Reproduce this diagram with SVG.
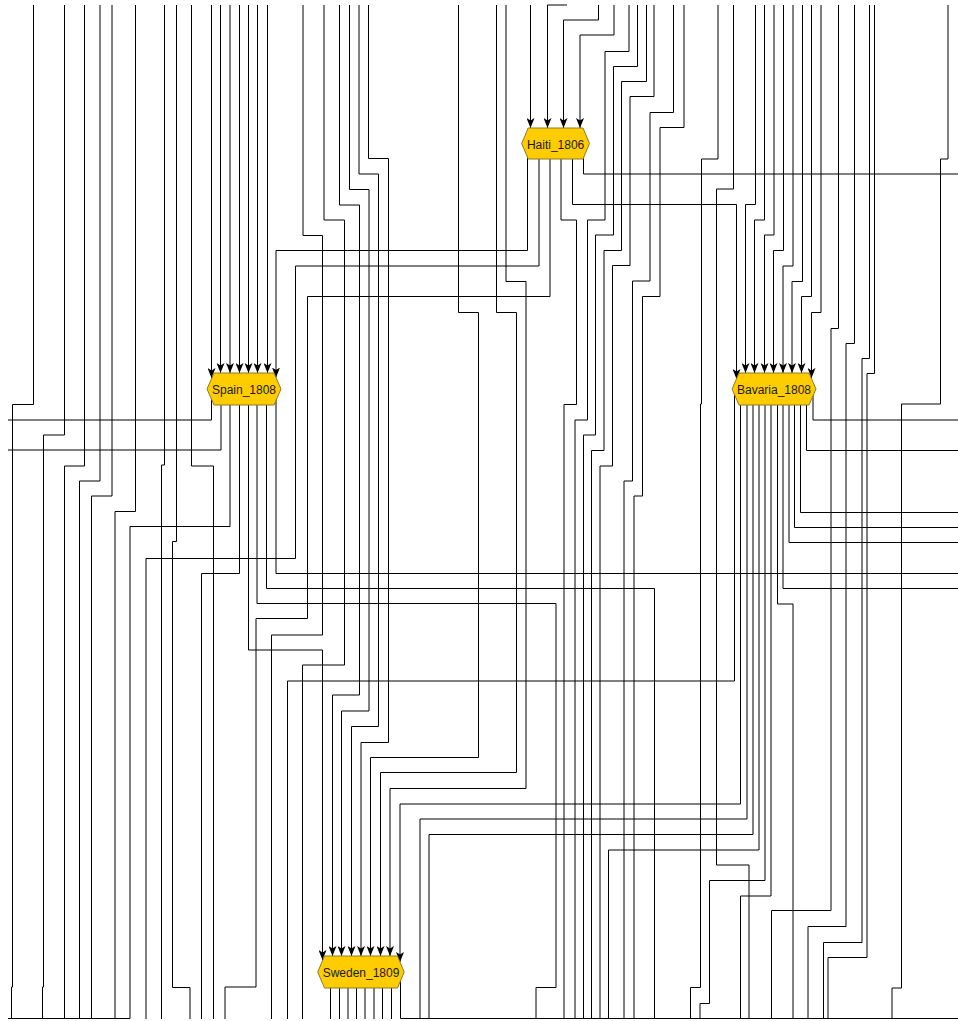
<svg xmlns="http://www.w3.org/2000/svg" width="958" height="1021" viewBox="0 0 958 1021">
<style>
.e{fill:none;stroke:#000;stroke-width:1}
.a{marker-end:url(#arr)}
.n{fill:#FFCC00;stroke:#8C7A2A;stroke-width:1}
.t{font-family:"Liberation Sans",Arial,sans-serif;font-size:12px;fill:#1a1a1a;text-anchor:middle;dominant-baseline:central}
</style>
<defs>
<marker id="arr" viewBox="0 0 10 8" refX="10" refY="4" markerWidth="10" markerHeight="8" markerUnits="userSpaceOnUse" orient="auto">
<path d="M0,0 L10,4 L0,8 L2.5,4 Z" fill="#000"/>
</marker>
</defs>
<rect width="958" height="1021" fill="#fff"/>
<g id="connectors">
<path class="e" d="M33.5 5V404.5H12.5V987H11.5V1019"/>
<path class="e" d="M64.5 5V435H43.5V987H42.5V1019"/>
<path class="e" d="M84.5 5V466H64.5V1019"/>
<path class="e" d="M100 5V481H79.5V1019"/>
<path class="e" d="M112 5V496H91.5V1019"/>
<path class="e" d="M135.5 5V511.5H115V1019"/>
<path class="e" d="M164.5 5V465H161.5V1019"/>
<path class="e" d="M176.5 5V541.5H172.5V987.5H190V1019"/>
<path class="e" d="M191.5 5V466H213.5V1019"/>
<path class="e a" d="M211.5 5V378"/>
<path class="e a" d="M220.5 5V373"/>
<path class="e a" d="M230 5V373"/>
<path class="e a" d="M239.5 5V373"/>
<path class="e a" d="M248.5 5V373"/>
<path class="e a" d="M257.5 5V373"/>
<path class="e a" d="M267.5 5V373"/>
<path class="e" d="M211.5 389V420H8"/>
<path class="e" d="M221 389V450H8"/>
<path class="e" d="M230 389V526.5H130V1018.5H8"/>
<path class="e" d="M239.5 389V573.5H201.5V1019"/>
<path class="e a" d="M248.5 389V650H322.5V960"/>
<path class="e" d="M257 389V603.5H556V987.5H536V1019"/>
<path class="e" d="M266.5 389V588.5H654.5V1019"/>
<path class="e" d="M276 389V573.5H958"/>
<path class="e a" d="M567 5H547.5V128"/>
<path class="e a" d="M530.5 5V128"/>
<path class="e a" d="M598.5 5V20H563.5V128"/>
<path class="e a" d="M614 5V35H580V128"/>
<path class="e" d="M629 5V51.5H605V220H587.5V420H575V1019"/>
<path class="e" d="M637.5 5V66.5H613.5V235H595.5V435H583.5V1019"/>
<path class="e" d="M646.5 5V81.5H621.5V250.5H604V450.5H591.5V1019"/>
<path class="e" d="M654 5V96.5H630V265.5H612.5V466H600V1019"/>
<path class="e" d="M673.5 5V112.5H650V281H632.5V481H624V1019"/>
<path class="e" d="M684 5V127.5H660V296.5H642.5V496H634V1019"/>
<path class="e a" d="M527.5 143V250.5H276V377.5"/>
<path class="e" d="M539 143V266H295.5V558.5H146V1019"/>
<path class="e" d="M550 143V296.5H307.5V618.5H256V987H225V1019"/>
<path class="e" d="M561 143V220H576.5V404.5H564V1019"/>
<path class="e a" d="M572.5 143V204.5H736.5V379"/>
<path class="e" d="M583.5 143V174H958"/>
<path class="e" d="M303 5V235.5H322.5V635H271.5V1019"/>
<path class="e" d="M324 5V220H344.5V665H302.5V1019"/>
<path class="e a" d="M339.5 5V205H359.5V695H332.5V956"/>
<path class="e a" d="M349.5 5V189.5H369V711H341.5V956"/>
<path class="e a" d="M359 5V174H378.5V726.5H351.5V956"/>
<path class="e a" d="M368.5 5V158.5H388.5V742.5H361V956"/>
<path class="e a" d="M458.5 5V312.5H478.5V757.5H370.5V956"/>
<path class="e a" d="M496.5 5V312.5H516.5V772.5H380.5V956"/>
<path class="e a" d="M506 5V281.5H526V788.5H390V956"/>
<path class="e" d="M718 5V159H701.5V404H700.5V987.5H690.5V1019"/>
<path class="e" d="M733.5 5V189H716.5V865H749V1019"/>
<path class="e a" d="M755.5 5V204.5H745.5V373"/>
<path class="e a" d="M764.5 5V220H754.5V373"/>
<path class="e a" d="M774 5V235H764.5V373"/>
<path class="e a" d="M783.5 5V250.5H773.5V373"/>
<path class="e a" d="M793 5V266H783V373"/>
<path class="e a" d="M802.5 5V281.5H792V373"/>
<path class="e a" d="M811.5 5V296.5H801.5V373"/>
<path class="e a" d="M821 5V312.5H811.5V378"/>
<path class="e" d="M838.5 5V328.5H831V910.5H771.5V1019"/>
<path class="e" d="M854.5 5V343.5H846V926.5H808V1019"/>
<path class="e" d="M869.5 5V358.5H862V942.5H823.5V1019"/>
<path class="e" d="M874.5 5V373.5H867V957.5H828V1019"/>
<path class="e" d="M948 5V159H940.5V404H901.5V988H892V1019"/>
<path class="e" d="M734.5 389V681H287.5V1019"/>
<path class="e a" d="M740.5 389V804H400V962"/>
<path class="e" d="M747 389V819H420V1019"/>
<path class="e" d="M753 389V834.5H429V1019"/>
<path class="e" d="M759 389V850H608.5V1019"/>
<path class="e" d="M765 389V880.5H709.5V1003.5H700V1019"/>
<path class="e" d="M771 389V896H740.5V1019"/>
<path class="e" d="M777.5 389V604H793V1019"/>
<path class="e" d="M783 389V588.5H958"/>
<path class="e" d="M789 389V542.5H958"/>
<path class="e" d="M794.5 389V527.5H958"/>
<path class="e" d="M800.5 389V512.5H958"/>
<path class="e" d="M806.5 389V450.5H958"/>
<path class="e" d="M813 389V420H958"/>
<path class="e" d="M330.5 972V1019"/>
<path class="e" d="M339.5 972V1019"/>
<path class="e" d="M348 972V1019"/>
<path class="e" d="M356.5 972V1019"/>
<path class="e" d="M365 972V1019"/>
<path class="e" d="M374 972V1019"/>
<path class="e" d="M382.5 972V1019"/>
<path class="e" d="M391.5 972V1019"/>
<path class="e" d="M400.5 972V1018.5H958"/>
</g>
<g id="Haiti_1806">
<polygon class="n" points="521.7,143.5 528.2,128 583,128 589.5,143.5 583,159 528.2,159"/>
<text class="t" x="555.6" y="144.5">Haiti_1806</text>
</g>
<g id="Spain_1808">
<polygon class="n" points="207,389 214,373 274,373 281,389 274,405 214,405"/>
<text class="t" x="244" y="390">Spain_1808</text>
</g>
<g id="Bavaria_1808">
<polygon class="n" points="732,389 739,373 809,373 816,389 809,405 739,405"/>
<text class="t" x="774" y="390">Bavaria_1808</text>
</g>
<g id="Sweden_1809">
<polygon class="n" points="317.7,972 324.5,956 397.5,956 404.2,972 397.5,988 324.5,988"/>
<text class="t" x="361" y="973">Sweden_1809</text>
</g>
</svg>
